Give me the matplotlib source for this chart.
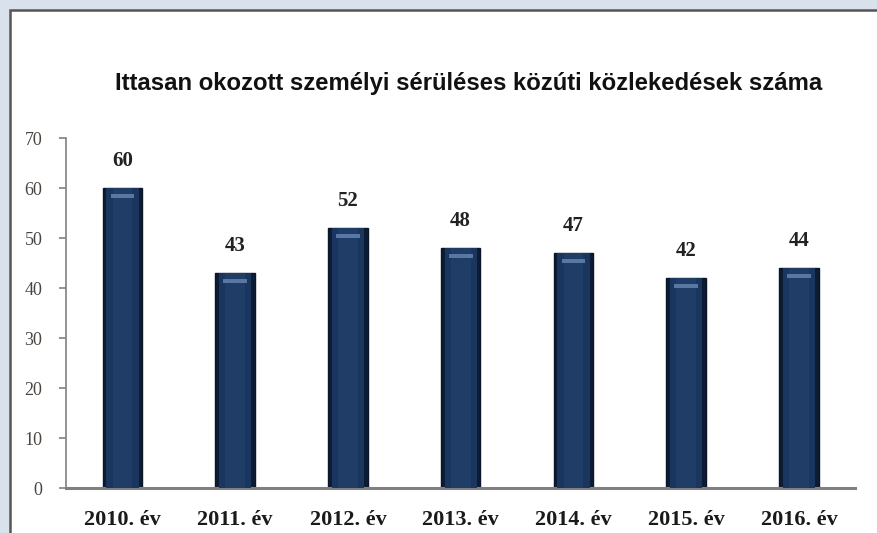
import matplotlib
matplotlib.use("Agg")
import matplotlib.pyplot as plt
from matplotlib.patches import Rectangle
import numpy as np

# data
years = ["2010. év", "2011. év", "2012. év", "2013. év", "2014. év", "2015. év", "2016. év"]
counts = [60, 43, 52, 48, 47, 42, 44]
yticks = [0, 10, 20, 30, 40, 50, 60, 70]
title = "Ittasan okozott személyi sérüléses közúti közlekedések száma"

fig = plt.figure(figsize=(8.78, 5.33), dpi=100)
fig.patch.set_facecolor("#d9e1ec")

# white chart frame, kept behind the axes
frame = Rectangle((0.011, -0.01), 1.0, 0.992, transform=fig.transFigure,
                  facecolor="white", edgecolor="#555555", linewidth=1.8, zorder=-5)
fig.patches.append(frame)

ax = fig.add_axes([0.0752, 0.0844, 0.899, 0.6566])
ax.set_facecolor("none")

x = np.arange(len(years))
w = 0.35
# bars: dark outer edge, lighter core -> rough gradient look
ax.bar(x, counts, width=w, color="#0d1c35", edgecolor="#0a1528", linewidth=1, zorder=2)
ax.bar(x, counts, width=w * 0.82, color="#1a355e", linewidth=0, zorder=3)
ax.bar(x, counts, width=w * 0.5, color="#203d68", linewidth=0, zorder=3)
# light band just under the top of each bar
for xi, v in zip(x, counts):
    ax.bar(xi, 0.8, bottom=v - 2.0, width=w * 0.6, color="#5877a3", linewidth=0, zorder=4)

for xi, v in zip(x, counts):
    ax.text(xi, v + 5.4, str(v), ha="center", va="center", fontsize=15,
            fontweight="bold", family="Liberation Serif", color="#222222")

ax.set_xlim(-0.5, len(years) - 0.5)
ax.set_ylim(0, 70)
ax.set_yticks(yticks)
ax.set_yticklabels([str(t) for t in yticks], family="Liberation Serif",
                   fontsize=13, color="#4a4540")
ax.set_xticks(x)
ax.set_xticklabels(years, family="Liberation Serif", fontweight="bold",
                   fontsize=16, color="#1a1a1a")
ax.tick_params(axis="x", length=0, pad=15.5)
ax.tick_params(axis="y", length=5, width=1.2, color="#808080", pad=12)

for s in ["top", "right"]:
    ax.spines[s].set_visible(False)
ax.spines["left"].set_color("#808080")
ax.spines["left"].set_linewidth(1.2)
ax.spines["bottom"].set_color("#808080")
ax.spines["bottom"].set_linewidth(2.2)

fig.text(0.5336, 0.844, title, ha="center", va="center", fontsize=17.2,
         fontweight="bold", family="Liberation Sans", color="#111111")

fig.savefig("out.png", dpi=100, facecolor=fig.get_facecolor())
